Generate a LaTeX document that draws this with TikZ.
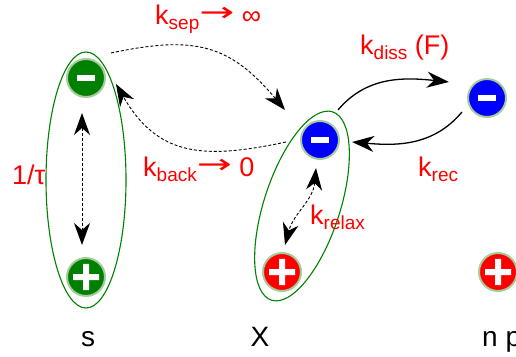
\documentclass[tikz,border=0pt]{standalone}
\usepackage{fontspec}
\usepackage{graphicx}
\setmainfont{Liberation Sans}
\newfontfamily\dvfont{DejaVu Sans}
\usetikzlibrary{arrows.meta}
\definecolor{dgreen}{RGB}{0,128,0}
\definecolor{hblue}{RGB}{0,0,255}
\definecolor{hred}{RGB}{255,0,0}
\definecolor{halo}{RGB}{165,205,155}
\newcommand\kk[1]{k\raisebox{-5pt}{\fontsize{19pt}{19pt}\selectfont #1}}
\newcommand\goes{\raisebox{3pt}{\dvfont\scalebox{1.55}[1]{→}}}
\tikzset{
  ch/.style={circle,draw=halo,line width=2pt,minimum size=38pt,inner sep=0pt},
  negch/.style={ch,path picture={\fill[white] ([shift={(-9pt,-3pt)}]path picture bounding box.center) rectangle +(18pt,6pt);}},
  posch/.style={ch,path picture={\fill[white] ([shift={(-13pt,-3pt)}]path picture bounding box.center) rectangle +(26pt,6pt)
    ([shift={(-3pt,-13pt)}]path picture bounding box.center) rectangle +(6pt,26pt);}},
  grp/.style={draw=dgreen,line width=1.1pt},
  lb/.style={text=hred,font=\fontsize{27pt}{30pt}\selectfont,inner sep=0pt},
  nm/.style={font=\fontsize{28pt}{30pt}\selectfont,inner sep=0pt},
  da/.style={dash pattern=on 3pt off 2pt,line width=0.9pt},
  sa/.style={line width=1.3pt,->},
}
\begin{document}
\begin{tikzpicture}[x=1pt,y=1pt,>={Stealth[length=22pt,width=16pt,inset=7pt]}]
  \useasboundingbox (0,0) rectangle (516,356);
  \clip (0,0) rectangle (516,356);
  \draw[grp] (86,176) ellipse [x radius=40,y radius=128];
  \draw[grp,rotate around={-18:(302,150)}] (302,150) ellipse [x radius=38,y radius=99];

  \node[negch,fill=dgreen] (sm) at (86,278) {};
  \node[posch,fill=dgreen] (sp) at (86,79) {};
  \node[negch,fill=hblue] (xm) at (320,216) {};
  \node[posch,fill=hred] (xp) at (282,84) {};
  \node[negch,fill=hblue] (fm) at (487,258) {};
  \node[posch,fill=hred] (fp) at (498,84) {};

  \node[nm,anchor=base] (ls) at (88,10) {s};
  \node[nm,anchor=base] (lx) at (260,10) {X};
  \node[nm,anchor=base west] (lnp) at (482,10) {n p};

  \node[lb,anchor=base west] (lsep) at (155,331) {\kk{sep}\goes\ ∞};
  \node[lb,anchor=base west] (lback) at (143,179) {\kk{back}\goes\ 0};
  \node[lb,anchor=base west] (ltau) at (12,171) {1/τ};
  \node[lb,anchor=base west] (ldiss) at (360,301) {\kk{diss} (F)};
  \node[lb,anchor=base west] (lrec) at (418,179) {\kk{rec}};
  \node[lb,anchor=base west] (lrelax) at (310,131) {\kk{relax}};

  \draw[da,->] ([shift={(25,25)}]sm.center) to[out=12,in=130,looseness=1.2] ([shift={(-35,30)}]xm.center);
  \draw[da,->] ([shift={(-34,-2)}]xm.center) to[out=192,in=-60,looseness=1.2] ([shift={(30,-6)}]sm.center);
  \draw[sa] ([shift={(18,30)}]xm.center) to[out=50,in=174] ([shift={(-38,16)}]fm.center);
  \draw[sa] ([shift={(-25,-14)}]fm.center) to[out=230,in=-5] ([shift={(32,-2)}]xm.center);
  \draw[da,<->] ([shift={(-4,-35)}]sm.center) -- ([shift={(-4,32)}]sp.center);
  \draw[da,<->] ([shift={(-4,-28)}]xm.center) to[out=-95,in=75] ([shift={(3,27)}]xp.center);
\end{tikzpicture}
\end{document}
